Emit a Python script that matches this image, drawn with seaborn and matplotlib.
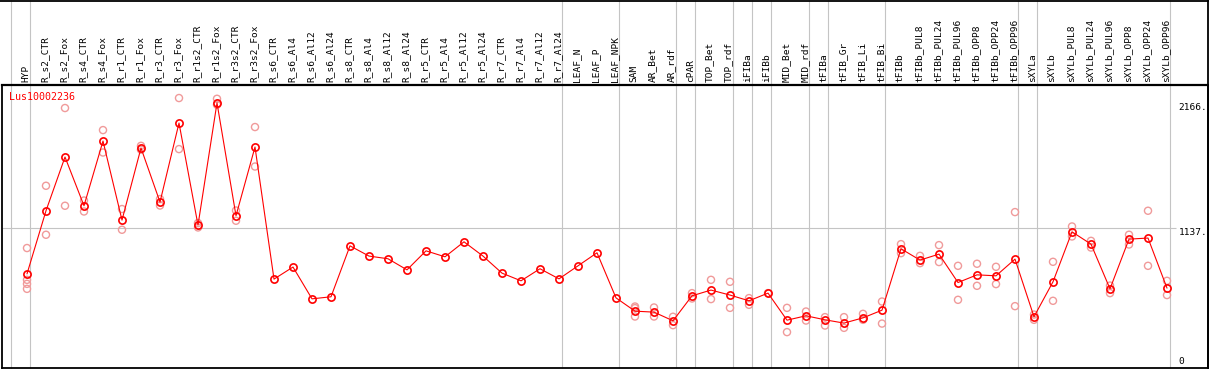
import matplotlib
matplotlib.use("Agg")
import matplotlib.pyplot as plt
import matplotlib.transforms as mtransforms
from matplotlib.lines import Line2D
import seaborn as sns
import pandas as pd

W, H = 1209, 370

GENE = "Lus10002236"

categories = [
    "HYP", "R_s2_CTR", "R_s2_Fox", "R_s4_CTR", "R_s4_Fox", "R_r1_CTR", "R_r1_Fox",
    "R_r3_CTR", "R_r3_Fox", "R_r1s2_CTR", "R_r1s2_Fox", "R_r3s2_CTR", "R_r3s2_Fox",
    "R_s6_CTR", "R_s6_Al4", "R_s6_Al12", "R_s6_Al24", "R_s8_CTR", "R_s8_Al4",
    "R_s8_Al12", "R_s8_Al24", "R_r5_CTR", "R_r5_Al4", "R_r5_Al12", "R_r5_Al24",
    "R_r7_CTR", "R_r7_Al4", "R_r7_Al12", "R_r7_Al24", "LEAF_N", "LEAF_P", "LEAF_NPK",
    "SAM", "AR_Bet", "AR_rdf", "cPAR", "TOP_Bet", "TOP_rdf", "iFIBa", "iFIBb",
    "MID_Bet", "MID_rdf", "tFIBa", "tFIB_Gr", "tFIB_Li", "tFIB_Bi", "tFIBb",
    "tFIBb_PUL8", "tFIBb_PUL24", "tFIBb_PUL96", "tFIBb_OPP8", "tFIBb_OPP24",
    "tFIBb_OPP96", "sXYLa", "sXYLb", "sXYLb_PUL8", "sXYLb_PUL24", "sXYLb_PUL96",
    "sXYLb_OPP8", "sXYLb_OPP24", "sXYLb_OPP96",
]

# number of samples in each block between the grey separators
group_sizes = [1, 28, 3, 3, 1, 2, 1, 1, 2, 1, 3, 7, 1, 7]

means = [
    763, 1281, 1722, 1322, 1853, 1204, 1796, 1352, 2001, 1163, 2166, 1240, 1804,
    720, 819, 558, 575, 993, 909, 887, 796, 952, 903, 1026, 909,
    769, 706, 805, 722, 829, 936, 566,
    457, 449, 378, 583, 630, 589, 542, 605, 383, 419, 386, 359, 402, 465,
    969, 876, 925, 692, 755, 747, 884,
    411, 698, 1108, 1007, 640, 1048, 1057, 646,
]

reps = [
    [975, 714, 681, 640], [1486, 1084], [2124, 1322], [1365, 1275], [1943, 1759],
    [1295, 1125], [1814, 1782], [1377, 1324], [2206, 1787], [1180, 1144],
    [2200, 2151], [1283, 1199], [1968, 1644],
    [], [], [], [], [], [], [], [], [], [], [], [], [], [], [], [], [], [], [],
    [495, 482, 413], [487, 413], [411, 342], [605, 561], [714, 556], [698, 484],
    [564, 509], [605], [484, 285], [454, 380], [408, 339], [408, 320], [435, 386],
    [536, 355],
    [1007, 933], [911, 851], [999, 860], [829, 550], [846, 665], [821, 679],
    [1270, 498],
    [429, 386], [862, 542], [1152, 1070], [1034, 979], [667, 605], [1084, 1004],
    [1281, 829], [706, 589],
]

y_ticks = [2166, 1137, 0]
y_tick_labels = ["2166.", "1137.", "0"]

RED = "#ff0000"
PINK = "#f09a9a"
GREY = "#c4c4c4"
MONO = ["DejaVu Sans Mono"]

sns.set_style("white")
plt.rcParams["font.family"] = MONO

mean_df = pd.DataFrame({"pos": range(len(categories)), "value": means})
rep_df = pd.DataFrame(
    [(i, v) for i, vals in enumerate(reps) for v in vals], columns=["pos", "value"]
)

fig = plt.figure(figsize=(W / 100, H / 100), dpi=100)
top_px, bot_px, left_px, right_px = 85, 368.3, 1.5, 1208.3
ax = fig.add_axes([left_px / W, (H - bot_px) / H,
                   (right_px - left_px) / W, (bot_px - top_px) / H])

# x: sample i sits at pixel 27 + 19*i
ax.set_xlim((left_px - 27) / 19, (right_px - 27) / 19)
ax.set_ylim(-12, 2313)

hdr = mtransforms.blended_transform_factory(ax.transData, ax.transAxes)
hdr_top = 1 + top_px / (bot_px - top_px)

# group separators
ends = []
acc = 0
for g in group_sizes:
    acc += g
    ends.append(acc - 1)
sep_x = [-0.85] + [e + 0.175 for e in ends]
ax.vlines(sep_x, 0, hdr_top, transform=hdr, colors=GREY, lw=0.8,
          clip_on=False, zorder=1)
ax.hlines(1137, ax.get_xlim()[0], 60.47, colors=GREY, lw=0.8, zorder=1)

sns.scatterplot(data=rep_df, x="pos", y="value", ax=ax, marker="o", s=26,
                facecolors="none", edgecolor=PINK, linewidth=1.0, zorder=2,
                legend=False)
sns.lineplot(data=mean_df, x="pos", y="value", ax=ax, color=RED, lw=0.8,
             marker="o", markersize=5.2, markerfacecolor="none",
             markeredgecolor=RED, markeredgewidth=1.2, zorder=3)

# sample names in the header
for i, name in enumerate(categories):
    ax.text(i - 0.06, 1 + 3.3 / (bot_px - top_px), name, transform=hdr,
            rotation=90, ha="center", va="bottom", fontsize=6.8,
            color="black", clip_on=False)

# value labels on the right
for v, lab in zip(y_ticks, y_tick_labels):
    ax.text((1178.5 - 27) / 19, v + (8 if v == 0 else 0), lab,
            ha="left", va="bottom" if v == 0 else "top",
            fontsize=6.8, color="black")

fig.text(9 / W, 1 - 91.5 / H, GENE, color=RED, fontsize=7.2, ha="left", va="top")

ax.set_xticks([])
ax.set_yticks([])
ax.set_xlabel("")
ax.set_ylabel("")
for sp in ax.spines.values():
    sp.set_color("black")
    sp.set_linewidth(1.3)
ax.spines["top"].set_linewidth(1.6)

# header frame: top edge and right edge only
fig.add_artist(Line2D([0, 1], [1 - 0.7 / H, 1 - 0.7 / H],
                      transform=fig.transFigure, color="black", lw=1.3))
fig.add_artist(Line2D([right_px / W, right_px / W], [(H - bot_px) / H, 1],
                      transform=fig.transFigure, color="black", lw=1.3))

fig.savefig("out.png", dpi=100)
